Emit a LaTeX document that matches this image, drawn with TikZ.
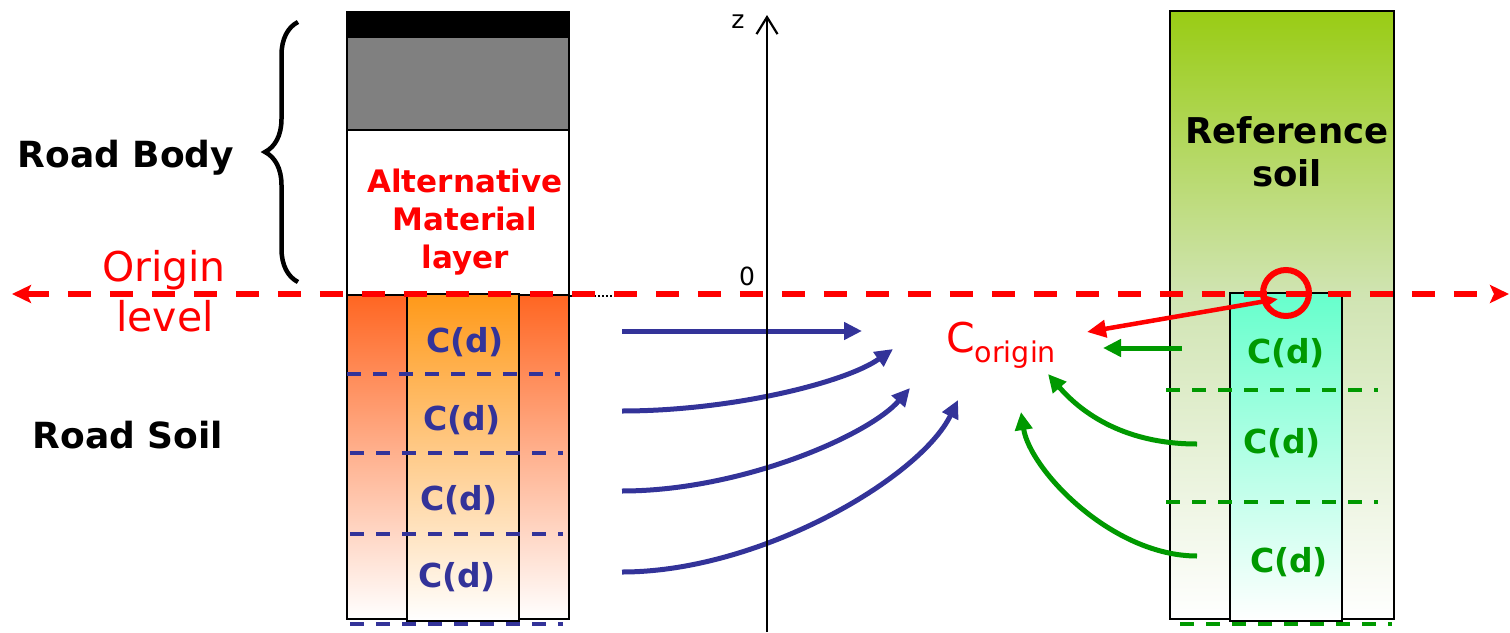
\documentclass[tikz,border=0pt]{standalone}
\usepackage{fontspec}
\setmainfont{DejaVu Sans}
\usetikzlibrary{arrows.meta, decorations.pathreplacing}

\definecolor{soilorange}{RGB}{255,102,34}
\definecolor{coreorange}{RGB}{255,153,25}
\definecolor{refgreen}{RGB}{153,204,20}
\definecolor{refpale}{RGB}{208,228,178}
\definecolor{refcyan}{RGB}{102,255,204}
\definecolor{cblue}{RGB}{51,51,153}
\definecolor{cgreen}{RGB}{0,153,0}
\definecolor{asphalt}{RGB}{128,128,128}

\begin{document}
\begin{tikzpicture}[x=1pt, y=-1pt,
  layer/.style={draw=black, line width=2.2pt},
  title/.style={font=\bfseries\fontsize{36}{40}\selectfont, anchor=base},
  origintxt/.style={font=\fontsize{41}{44}\selectfont, text=red, anchor=base},
  alttxt/.style={font=\bfseries\fontsize{31}{38}\selectfont, text=red, align=center},
  reftxt/.style={font=\bfseries\fontsize{35.5}{43}\selectfont, align=center},
  axtxt/.style={font=\fontsize{25}{26}\selectfont, anchor=base},
  cdblue/.style={font=\bfseries\fontsize{33}{36}\selectfont, text=cblue, anchor=base},
  cdgreen/.style={font=\bfseries\fontsize{33}{36}\selectfont, text=cgreen, anchor=base},
  bluesep/.style={draw=cblue, line width=4.5pt, dash pattern=on 14pt off 12pt},
  greensep/.style={draw=cgreen, line width=4.5pt, dash pattern=on 14pt off 12pt},
  barr/.style={-{Triangle[length=18pt, width=17pt]}, line width=5pt, draw=cblue},
  garr/.style={-{Triangle[length=18pt, width=17pt]}, line width=5pt, draw=cgreen},
  rarr/.style={{Triangle[length=19pt, width=17pt]}-{Triangle[length=13pt, width=11pt]},
               line width=4.5pt, draw=red},
  levelline/.style={draw=red, line width=6pt, dash pattern=on 23pt off 19pt,
                    {Stealth[length=19pt, width=18pt, inset=4pt]}-{Stealth[length=19pt, width=18pt, inset=4pt]}},
]
\useasboundingbox (0,0) rectangle (1510,632);

% Road column
\fill[black] (347,12) rectangle (569,37);
\fill[asphalt] (347,37) rectangle (569,130);
\fill[top color=soilorange, bottom color=white] (347,295) rectangle (569,619);
\draw[layer] (347,12) rectangle (569,619);
\draw[layer] (347,37) -- (569,37);
\draw[layer] (347,130) -- (569,130);
\draw[layer] (347,295) -- (569,295);
\draw[layer, top color=coreorange, bottom color=white] (407,294) rectangle (519,621);

\node[alttxt] (altmat) at (465,222) {Alternative\\Material\\layer};

% depth slices, road side
\draw[bluesep] (347,374) -- (560,374);
\draw[bluesep] (350,453) -- (563,453);
\draw[bluesep] (350,534) -- (563,534);
\draw[bluesep] (350,624) -- (563,624);

\node[cdblue] (rc1) at (465,352) {C(d)};
\node[cdblue] (rc2) at (462,430) {C(d)};
\node[cdblue] (rc3) at (459,510) {C(d)};
\node[cdblue] (rc4) at (457,587) {C(d)};

% Reference column
\fill[top color=refgreen, bottom color=refpale] (1170,11) rectangle (1394,294);
\fill[top color=refpale, bottom color=white] (1170,294) rectangle (1394,619);
\draw[layer] (1170,11) rectangle (1394,619);
\draw[layer, top color=refcyan, bottom color=white] (1230,293) rectangle (1342,621);

\node[reftxt] (refsoil) at (1287,152) {Reference\\soil};

% depth slices, reference side
\draw[greensep] (1166,390) -- (1378,390);
\draw[greensep] (1166,502) -- (1378,502);
\draw[greensep] (1180,624) -- (1392,624);

\node[cdgreen] (gc1) at (1286,363) {C(d)};
\node[cdgreen] (gc2) at (1282,453) {C(d)};
\node[cdgreen] (gc3) at (1289,572) {C(d)};

% Left labels
\node[title] (body) at (126,167) {Road Body};
\node[title] (soil) at (128,448) {Road Soil};
\draw[decorate, decoration={brace, amplitude=33pt}, line width=4.5pt] (298,282) -- (298,22);

% Target concentration
\node[font=\fontsize{41}{44}\selectfont, text=red, anchor=base west, inner sep=0pt] (corigin) at (946,352)
  {C\raisebox{-10pt}{\fontsize{28.5}{30}\selectfont origin}};

% Arrow ends
\coordinate (b1) at (622,331);
\coordinate (b2) at (622,411);
\coordinate (b3) at (622,491);
\coordinate (b4) at (622,572);
\coordinate (bt1) at (862,331);
\coordinate (bt2) at (893,349);
\coordinate (bt3) at (910,388);
\coordinate (bt4) at (958,400);
\coordinate (g1) at (1182,348);
\coordinate (g2) at (1197,444);
\coordinate (g3) at (1197,556);
\coordinate (gt1) at (1103,348);
\coordinate (gt2) at (1048,374);
\coordinate (gt3) at (1021,412);

\draw[barr] (b1) -- (bt1);
\draw[barr] (b2) .. controls (730,411) and (845,383) .. (bt2);
\draw[barr] (b3) .. controls (740,491) and (868,436) .. (bt3);
\draw[barr] (b4) .. controls (760,572) and (920,478) .. (bt4);

\draw[garr] (g1) -- (gt1);
\draw[garr] (g2) .. controls (1120,444) and (1078,409) .. (gt2);
\draw[garr] (g3) .. controls (1112,556) and (1030,470) .. (gt3);

% z axis
\draw[line width=2.2pt, -{Straight Barb[length=17pt, width=21pt]}] (767,632) -- (767,15);
\node[axtxt] (zlbl) at (738,28) {z};
\node[axtxt] (zero) at (747,285) {0};

% Origin level
\node[origintxt] (origin) at (164,281) {Origin};
\node[origintxt] (lvl) at (165,331) {level};
\draw[dotted, line width=2pt] (570,296) -- (616,296);
\draw[levelline] (12,294) -- (1509,294);

% sampling point
\node[draw=red, line width=6pt, circle, minimum size=46pt, inner sep=0pt] (probe) at (1286,293) {};
\coordinate (rt) at (1087,332);
\coordinate (rp) at (1278,299);
\draw[rarr] (rt) -- (rp);

\end{tikzpicture}
\end{document}
